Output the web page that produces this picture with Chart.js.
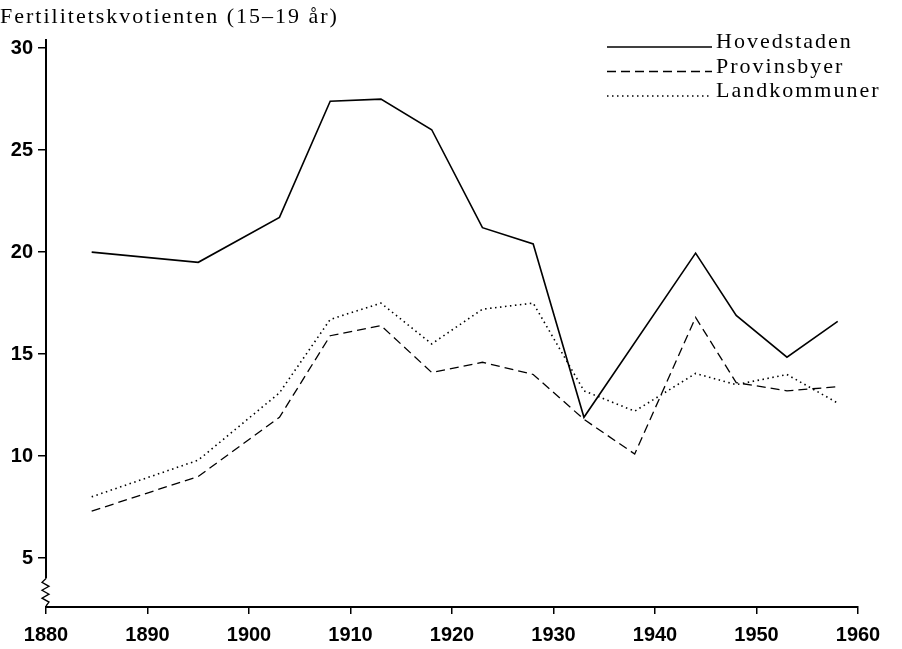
<!DOCTYPE html>
<html>
<head>
<meta charset="utf-8">
<script src="https://cdn.jsdelivr.net/npm/chart.js@4.4.0/dist/chart.umd.min.js"></script>
<style>
  html, body { margin: 0; padding: 0; background: #fff; }
  #wrap { width: 902px; height: 649px; position: relative; }
</style>
</head>
<body>
<div id="wrap"><canvas id="chart"></canvas></div>
<script>
// Data
const years = [1884.5, 1895, 1903, 1908, 1913, 1918, 1923, 1928, 1933, 1938, 1944, 1948, 1953, 1958];
const hovedstaden = [20.0, 19.5, 21.7, 27.4, 27.5, 26.0, 21.2, 20.4, 11.9, null, 19.95, 16.9, 14.85, 16.6];
const provinsbyer = [7.3, 9.0, 11.9, 15.9, 16.4, 14.1, 14.6, 14.0, 11.8, 10.1, 16.8, 13.6, 13.2, 13.4];
const landkommuner = [8.0, 9.8, 13.1, 16.7, 17.5, 15.5, 17.2, 17.5, 13.2, 12.2, 14.05, 13.5, 14.0, 12.6];
const xTicks = [1880, 1890, 1900, 1910, 1920, 1930, 1940, 1950, 1960];
const yTicks = [5, 10, 15, 20, 25, 30];
const seriesNames = ['Hovedstaden', 'Provinsbyer', 'Landkommuner'];
const yTitle = 'Fertilitetskvotienten (15–19 år)';

const serif = '"Liberation Serif", "DejaVu Serif", serif';
const sans = '"Liberation Sans", Arial, sans-serif';

function pts(vals) {
    return years.map((x, i) => ({ x: x, y: vals[i] })).filter(p => p.y !== null);
}

const styles = [
    { borderDash: [], borderWidth: 1.6 },
    { borderDash: [9, 5], borderWidth: 1.3 },
    { borderDash: [1.5, 3.5], borderWidth: 1.6 }
];

// Title, legend and axis break drawn on the canvas
const decorations = {
    id: 'decorations',
    afterDraw(chart) {
        const ctx = chart.ctx;
        const area = chart.chartArea;
        ctx.save();

        // y title
        ctx.fillStyle = '#000';
        ctx.font = '22px ' + serif;
        ctx.letterSpacing = '2px';
        ctx.textBaseline = 'alphabetic';
        ctx.textAlign = 'left';
        ctx.fillText(yTitle, 0, 23);

        // legend
        chart.data.datasets.forEach((ds, i) => {
            const y = 47 + i * 24.5;
            ctx.strokeStyle = '#000';
            ctx.lineWidth = ds.borderWidth;
            ctx.setLineDash(ds.borderDash);
            ctx.beginPath();
            ctx.moveTo(607, y);
            ctx.lineTo(712, y);
            ctx.stroke();
            ctx.setLineDash([]);
            ctx.fillText(ds.label, 716, y + 1);
        });
        ctx.letterSpacing = '0px';

        // axis break on the y axis
        const x0 = area.left;
        const yTop = chart.scales.y.getPixelForValue(4.0);
        const yBot = area.bottom - 1;
        ctx.fillStyle = '#fff';
        ctx.fillRect(x0 - 3, yTop, 6, yBot - yTop);
        ctx.strokeStyle = '#000';
        ctx.lineWidth = 1.3;
        ctx.beginPath();
        ctx.moveTo(x0, yTop);
        const n = 7;
        const step = (yBot - yTop) / n;
        for (let k = 1; k <= n; k++) {
            const xx = k === n ? x0 : (k % 2 ? x0 - 4 : x0 + 3);
            ctx.lineTo(xx, yTop + k * step);
        }
        ctx.stroke();
        ctx.restore();
    }
};

new Chart(document.getElementById('chart'), {
    type: 'line',
    data: {
        datasets: [hovedstaden, provinsbyer, landkommuner].map((vals, i) => ({
            label: seriesNames[i],
            data: pts(vals),
            borderColor: '#000',
            borderWidth: styles[i].borderWidth,
            borderDash: styles[i].borderDash,
            pointRadius: 0,
            tension: 0,
            fill: false
        }))
    },
    options: {
        responsive: true,
        maintainAspectRatio: false,
        animation: false,
        layout: { padding: { top: 40, right: 44, left: 0, bottom: 0 } },
        plugins: { legend: { display: false }, tooltip: { enabled: false } },
        scales: {
            x: {
                type: 'linear',
                min: 1880,
                max: 1960,
                afterBuildTicks: axis => { axis.ticks = xTicks.map(v => ({ value: v })); },
                afterFit: axis => { axis.height = 42; },
                border: { color: '#000', width: 2 },
                grid: { drawOnChartArea: false, drawTicks: true, tickLength: 7, color: '#000', lineWidth: 1.5 },
                ticks: {
                    color: '#000',
                    font: { family: sans, size: 20, weight: 'bold' },
                    padding: 9,
                    maxRotation: 0,
                    callback: v => String(v)
                }
            },
            y: {
                type: 'linear',
                min: 2.6,
                max: 30.4,
                afterBuildTicks: axis => { axis.ticks = yTicks.map(v => ({ value: v })); },
                afterFit: axis => { axis.width = 46; },
                border: { color: '#000', width: 2 },
                grid: { drawOnChartArea: false, drawTicks: true, tickLength: 8, color: '#000', lineWidth: 1.5 },
                ticks: {
                    color: '#000',
                    font: { family: sans, size: 20, weight: 'bold' },
                    padding: 5,
                    callback: v => String(v)
                }
            }
        }
    },
    plugins: [decorations]
});
</script>
</body>
</html>
